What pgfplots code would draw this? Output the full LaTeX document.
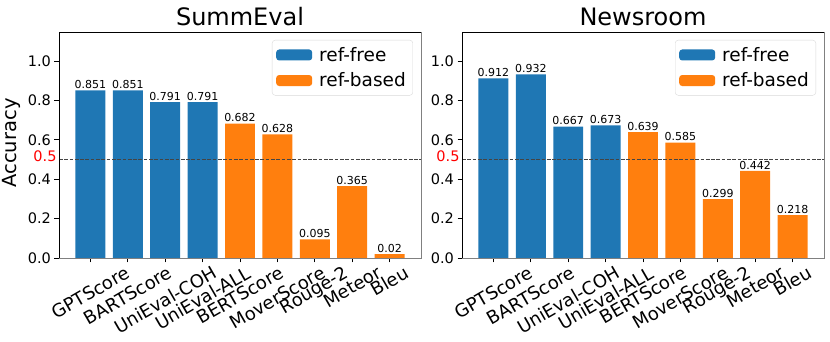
\documentclass[border=0pt]{standalone}
\usepackage{fontspec}
\setmainfont{DejaVu Sans}
\usepackage{graphicx}
\usepackage{pgfplots}
\pgfplotsset{compat=1.18}

\definecolor{tabblue}{HTML}{1F77B4}
\definecolor{taborange}{HTML}{FF7F0E}
\definecolor{spinegray}{HTML}{808080}
\definecolor{refline}{HTML}{444444}

\newcommand{\xl}[1]{\rotatebox{30}{\fontsize{18}{20}\selectfont #1}}
\newcommand{\legtxt}[1]{\fontsize{18.5}{21}\selectfont #1}

\pgfplotsset{
  panel/.style={
    scale only axis,
    width=362pt, height=226pt,
    xmin=-0.84, xmax=8.84,
    ymin=0, ymax=1.147,
    ybar, bar width=0.8, bar shift=0pt,
    clip=false,
    axis line style={draw=none},
    tick align=outside,
    major tick length=4.5pt,
    xtick pos=bottom, ytick pos=left,
    tick style={black, line width=0.8pt},
    xtick={0,...,8},
    xticklabels={\xl{GPTScore},\xl{BARTScore},\xl{UniEval-COH},\xl{UniEval-ALL},\xl{BERTScore},\xl{MoverScore},\xl{Rouge-2},\xl{Meteor},\xl{Bleu}},
    xticklabel style={anchor=north, inner sep=2.5pt},
    ytick={0,0.2,0.4,0.6,0.8,1.0},
    yticklabel style={font=\fontsize{14.5}{16}\selectfont, /pgf/number format/.cd, fixed, fixed zerofill, precision=1},
    /pgf/number format/assume math mode=true,
    title style={font=\fontsize{24}{28}\selectfont, yshift=-3pt},
    nodes near coords,
    nodes near coords style={font=\fontsize{11}{12}\selectfont, anchor=south, inner sep=1.5pt, black,
      /pgf/number format/.cd, fixed, precision=3},
    legend image code/.code={\fill[##1] (0pt,-5.5pt) rectangle (36pt,5.5pt);},
    legend style={at={(1,1)}, anchor=north east, xshift=-8pt, yshift=-8pt,
      draw=black!15, rounded corners=3pt,
      inner xsep=4pt, inner ysep=5pt, row sep=6pt,
      nodes={inner xsep=3pt, inner ysep=2pt},
      /tikz/every odd column/.append style={column sep=4pt}},
    legend cell align=left,
  },
  frame/.style={
    extra description/.code={
      \draw[black, line width=0.8pt] (rel axis cs:0,0) -- (rel axis cs:0,1) -- (rel axis cs:1,1);
      \draw[spinegray, line width=0.8pt] (rel axis cs:1,1) -- (rel axis cs:1,0) -- (rel axis cs:0,0);
    }
  },
}

\begin{document}
\begin{tikzpicture}
\path[use as bounding box] (-59pt,-84pt) rectangle (771pt,258pt);

% SummEval
\begin{axis}[panel, frame, title={SummEval},
  ylabel={Accuracy}, ylabel style={font=\fontsize{19.5}{22}\selectfont, xshift=2pt}]
\addplot[fill=tabblue, draw=none] coordinates {(0,0.851) (1,0.851) (2,0.791) (3,0.791)};
\addplot[fill=taborange, draw=none] coordinates {(4,0.682) (5,0.628) (6,0.095) (7,0.365) (8,0.02)};
\draw[refline, line width=0.8pt, dash pattern=on 3.7pt off 1.6pt] (axis cs:-0.84,0.5) -- (axis cs:8.84,0.5);
\node[red, anchor=base east, inner sep=0pt, xshift=-2.3pt, yshift=-2.4pt, font=\fontsize{14.5}{16}\selectfont] at (axis cs:-0.84,0.5) {0.5};
\legend{\legtxt{ref-free}, \legtxt{ref-based}}
\end{axis}

% Newsroom
\begin{axis}[panel, frame, at={(403pt,0pt)}, title={Newsroom}]
\addplot[fill=tabblue, draw=none] coordinates {(0,0.912) (1,0.932) (2,0.667) (3,0.673)};
\addplot[fill=taborange, draw=none] coordinates {(4,0.639) (5,0.585) (6,0.299) (7,0.442) (8,0.218)};
\draw[refline, line width=0.8pt, dash pattern=on 3.7pt off 1.6pt] (axis cs:-0.84,0.5) -- (axis cs:8.84,0.5);
\node[red, anchor=base east, inner sep=0pt, xshift=-2.3pt, yshift=-2.4pt, font=\fontsize{14.5}{16}\selectfont] at (axis cs:-0.84,0.5) {0.5};
\legend{\legtxt{ref-free}, \legtxt{ref-based}}
\end{axis}
\end{tikzpicture}
\end{document}
